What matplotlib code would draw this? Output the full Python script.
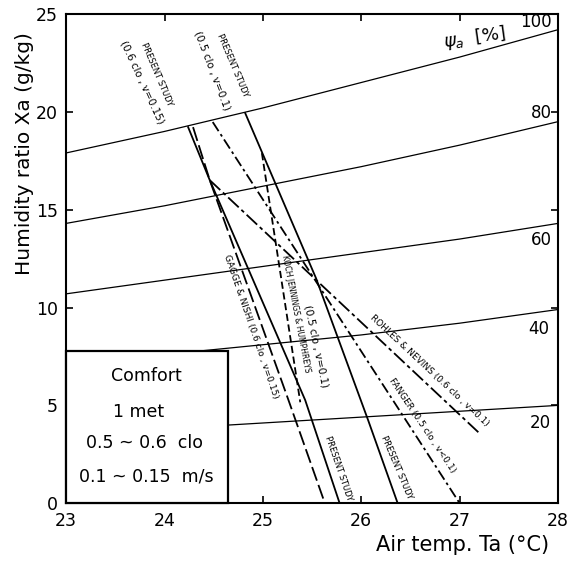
import numpy as np
import matplotlib
matplotlib.use("Agg")
import matplotlib.pyplot as plt
from matplotlib.patches import Rectangle

plt.rcParams['font.family'] = ['DejaVu Sans']

temps = [23, 24, 25, 26, 27, 28]
rh_levels = [100, 80, 60, 40, 20]
rh_100 = [17.9, 19.0, 20.2, 21.5, 22.8, 24.2]
rh_80 = [14.3, 15.2, 16.2, 17.2, 18.3, 19.5]
rh_60 = [10.7, 11.4, 12.1, 12.8, 13.5, 14.3]
rh_40 = [7.2, 7.6, 8.1, 8.6, 9.2, 9.9]
rh_20 = [3.6, 3.8, 4.1, 4.4, 4.7, 5.0]

# comfort lines (temp, humidity ratio)
present_a_t = [24.24, 24.46, 25.43, 25.78]
present_a_x = [19.22, 16.51, 5.27, 0.0]
present_b_t = [24.82, 25.54, 26.07, 26.37]
present_b_x = [19.94, 11.50, 4.24, 0.0]
gagge_t = [24.29, 24.46, 25.26, 25.63]
gagge_x = [19.22, 16.51, 5.27, 0.0]
koch_t = [24.99, 25.38]
koch_x = [17.89, 5.16]
rohles_t = [24.46, 27.20]
rohles_x = [16.51, 3.58]
fanger_t = [24.49, 27.00]
fanger_x = [19.48, 0.0]

comfort_lines = ["Comfort", "1 met", "0.5 ~ 0.6  clo", "0.1 ~ 0.15  m/s"]

fig = plt.figure(figsize=(5.7, 5.61), dpi=100)
ax = fig.add_axes([0.116, 0.103, 0.863, 0.872])

box_t, box_x = 24.65, 7.8

rh_curves = [rh_100, rh_80, rh_60, rh_40, rh_20]
for vals in rh_curves:
    ax.plot(temps, vals, color='black', lw=0.9, zorder=2)

ax.add_patch(Rectangle((23, 0), box_t - 23, box_x, facecolor='white',
                       edgecolor='black', lw=1.6, zorder=4, clip_on=False))
comfort_x = [23.82, 23.74, 23.8, 23.82]
comfort_y = [6.5, 4.65, 3.07, 1.38]
for txt, xx, yy in zip(comfort_lines, comfort_x, comfort_y):
    ax.text(xx, yy, txt, ha='center', va='center', fontsize=12.5, zorder=5)

ax.plot(present_a_t, present_a_x, color='black', lw=1.3, zorder=3)
ax.plot(present_b_t, present_b_x, color='black', lw=1.3, zorder=3)
ax.plot(gagge_t, gagge_x, color='black', lw=1.3, ls=(0, (8, 2.5)), zorder=3)
ax.plot(koch_t, koch_x, color='black', lw=1.3, ls=(0, (4, 2)), zorder=3)
ax.plot(rohles_t, rohles_x, color='black', lw=1.3, ls=(0, (8, 2, 2, 2)), zorder=3)
ax.plot(fanger_t, fanger_x, color='black', lw=1.3, ls=(0, (6, 2, 1.5, 2)), zorder=3)

small = dict(ha='center', va='center', fontsize=6)
mid = dict(ha='center', va='center', fontsize=7.5)
ax.text(23.92, 21.9, "PRESENT STUDY", rotation=-67, **small)
ax.text(23.77, 21.5, "(0.6 clo , v=0.15)", rotation=-65, **mid)
ax.text(24.69, 22.4, "PRESENT STUDY", rotation=-67, **small)
ax.text(24.49, 22.1, "(0.5 clo , v=0.1)", rotation=-69, **mid)
ax.text(24.88, 9.05, "GAGGE & NISHI (0.6 clo , v=0.15)", rotation=-71,
        ha='center', va='center', fontsize=6.5)
ax.text(25.33, 9.66, "KOCH JENNINGS & HUMPHREYS", rotation=-79,
        ha='center', va='center', fontsize=5.5)
ax.text(25.54, 8.03, "(0.5 clo , v=0.1)", rotation=-78, **mid)
ax.text(26.69, 6.8, "ROHLES & NEVINS (0.6 clo , v=0.1)", rotation=-43,
        ha='center', va='center', fontsize=6.5)
ax.text(26.62, 3.99, "FANGER (0.5 clo , v<0.1)", rotation=-56,
        ha='center', va='center', fontsize=6.5)
ax.text(25.77, 1.79, "PRESENT STUDY", rotation=-71, **small)
ax.text(26.36, 1.84, "PRESENT STUDY", rotation=-67, **small)

rh_label_x = [27.78, 27.83, 27.83, 27.8, 27.82]
rh_label_y = [24.6, 19.95, 13.45, 8.9, 4.1]
for lev, xx, yy in zip(rh_levels, rh_label_x, rh_label_y):
    ax.text(xx, yy, str(lev), ha='center', va='center', fontsize=12)
ax.text(27.15, 23.8, r"$\psi_a$  [%]", ha='center', va='center',
        fontsize=13, rotation=8)

ax.set_xlim(23, 28)
ax.set_ylim(0, 25)
ax.set_xticks(temps)
ax.set_yticks([0, 5, 10, 15, 20, 25])
ax.tick_params(direction='in', top=True, right=True, length=5, width=1.2,
               labelsize=12.5, pad=6)
for sp in ax.spines.values():
    sp.set_linewidth(1.5)

ax.text(-0.085, 0.715, "Humidity ratio Xa (g/kg)", rotation=90,
        transform=ax.transAxes, ha='center', va='center', fontsize=14.5)
ax.text(0.805, -0.086, "Air temp. Ta (°C)", transform=ax.transAxes,
        ha='center', va='center', fontsize=15)

fig.savefig("out.png", dpi=100)
